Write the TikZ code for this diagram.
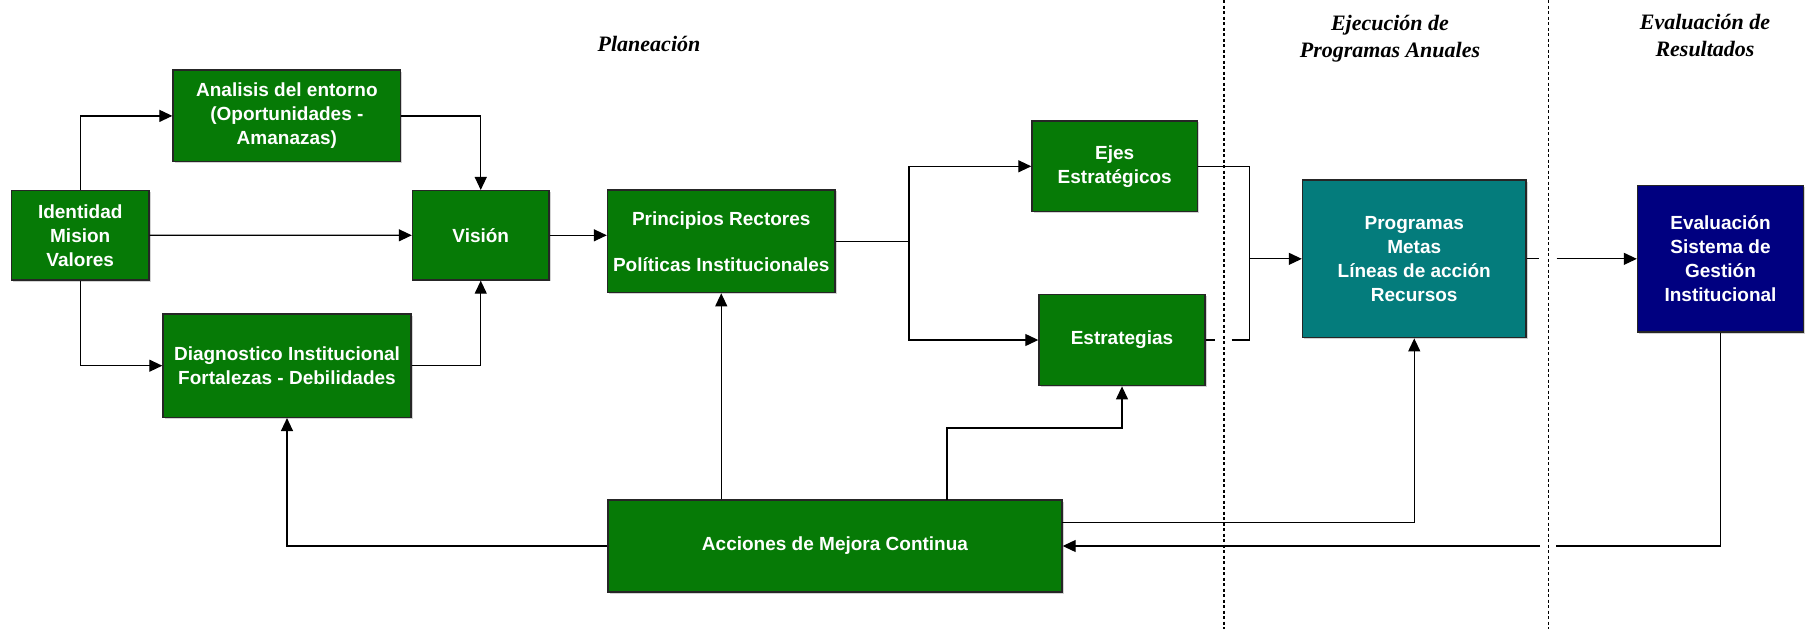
\documentclass[tikz,border=0pt]{standalone}
\usepackage{fontspec}
\setmainfont{Liberation Sans}
\newfontfamily\headfont{Liberation Serif}
\usepackage{xcolor}
\usetikzlibrary{shadows,arrows.meta}

\definecolor{boxgreen}{RGB}{6,122,6}
\definecolor{boxteal}{RGB}{4,124,124}
\definecolor{boxnavy}{RGB}{0,0,128}

\begin{document}
\begin{tikzpicture}[x=1pt, y=-1pt,
  box/.style={draw=black!85, line width=1.4pt, fill=boxgreen, text=white, align=center, inner sep=0pt,
    font=\bfseries\fontsize{19}{24}\selectfont,
    drop shadow={shadow xshift=1.5pt, shadow yshift=-1.5pt, opacity=0.35}},
  link/.style={line width=1.2pt, -{Triangle[length=13pt,width=12pt]}},
  wire/.style={line width=1.2pt},
  phase/.style={font=\headfont\bfseries\itshape\fontsize{22}{27}\selectfont, align=center},
  divider/.style={line width=1.1pt, dash pattern=on 3pt off 2.5pt}]
  \useasboundingbox (0,0) rectangle (1808,629);

  % Phase titles
  \node[phase] (plan) at (649,44) {Planeación};
  \node[phase] (ejec) at (1390,39) {Ejecución de\\Programas Anuales};
  \node[phase] (resul) at (1705,35) {Evaluación de\\Resultados};

  % Boxes of the planning phase
  \node[box, minimum width=137.5pt, minimum height=89.5pt] (ident) at (80.25,235.25) {Identidad\\Mision\\Valores};
  \node[box, minimum width=227.7pt, minimum height=91.7pt] (anal) at (286.9,115.9) {Analisis del entorno\\(Oportunidades -\\Amanazas)};
  \node[box, minimum width=136.5pt, minimum height=89.3pt] (vision) at (480.75,235.3) {Visión};
  \node[box, minimum width=248pt, minimum height=103.3pt] (diag) at (287,365.7) {Diagnostico Institucional\\Fortalezas - Debilidades};
  \node[box, minimum width=227.5pt, minimum height=102.7pt] (prin) at (721.25,241.3) {Principios Rectores\\[22pt]Políticas Institucionales};
  \node[box, minimum width=165.5pt, minimum height=90.7pt] (ejes) at (1114.75,166.3) {Ejes\\Estratégicos};
  \node[box, minimum width=166pt, minimum height=91.4pt] (estr) at (1122,340) {Estrategias};
  \node[box, minimum width=454pt, minimum height=92pt] (acc) at (835,546) {Acciones de Mejora Continua};

  % Execution and evaluation
  \node[box, fill=boxteal, minimum width=223.5pt, minimum height=157.7pt] (prog) at (1414.25,258.85) {Programas\\Metas\\Líneas de acción\\Recursos};
  \node[box, fill=boxnavy, minimum width=166pt, minimum height=146.3pt] (eval) at (1720.5,258.85) {Evaluación\\Sistema de\\Gestión\\Institucional};

  % Helper points
  \coordinate (split) at (909,241.3);
  \coordinate (merge) at (1249.6,258.85);
  \coordinate (accup) at (947,500);
  \coordinate (accprog) at (1062,522.7);

  % Connectors
  \draw[link] (ident.north) |- (anal.west);
  \draw[link] (ident.east) -- (vision.west);
  \draw[link] (ident.south) |- (diag.west);
  \draw[link] (anal.east) -| (vision.north);
  \draw[link] (diag.east) -| (vision.south);
  \draw[link] (vision.east) -- (vision.east -| prin.west);
  \draw[wire] (prin.east) -- (split);
  \draw[link] (split) |- (ejes.west);
  \draw[link] (split) |- (estr.west);
  \draw[wire] (ejes.east) -| (merge);
  \draw[wire] (estr.east) -- ++(9,0) ++(17,0) -| (merge);
  \draw[link] (merge) -- (prog.west);
  \draw[link] (prog.east) -- ++(12,0) ++(18,0) -- (eval.west);
  \draw[link] (eval.south) |- (1556,546) ++(-16,0) -- (acc.east);
  \draw[link] (accprog) -| (prog.south);
  \draw[link] (acc.north -| prin.south) -- (prin.south);
  \draw[link] (accup) -- ++(0,-72) -| (estr.south);
  \draw[link] (acc.west) -| (diag.south);

  % Phase dividers
  \draw[divider] (1224,0) -- (1224,629);
  \draw[divider] (1548.6,0) -- (1548.6,629);
\end{tikzpicture}
\end{document}
